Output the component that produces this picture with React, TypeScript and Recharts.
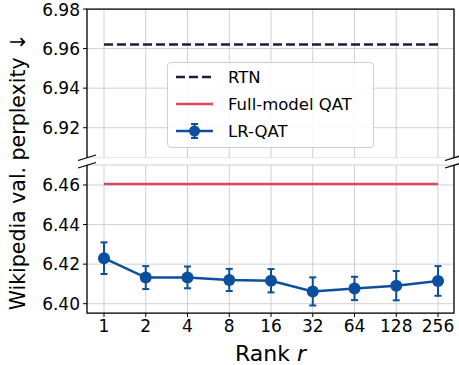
import React from 'react'
import {
  ComposedChart,
  Line,
  XAxis,
  YAxis,
  CartesianGrid,
  ErrorBar,
  Label,
} from 'recharts'

const ranks = ['1', '2', '4', '8', '16', '32', '64', '128', '256']
const lrQat = [6.423, 6.4132, 6.4133, 6.412, 6.4116, 6.4062, 6.4077, 6.4091, 6.4115]
const lrQatErr = [0.008, 0.0058, 0.0055, 0.0056, 0.0059, 0.0071, 0.0059, 0.0074, 0.0075]
const rtnValue = 6.962
const fullQatValue = 6.4605
const topTicks = [6.92, 6.94, 6.96, 6.98]
const bottomTicks = [6.4, 6.42, 6.44, 6.46]

const COLORS = {
  rtn: '#1c1c3f',
  full: '#d9485f',
  lr: '#0b4f9d',
  grid: '#d0d0d0',
}

const FONT = '"DejaVu Sans", sans-serif'
const W = 459
const H = 365
const AXIS_W = 87
const RIGHT = 5
// panel frames (page pixels)
const TOP_Y0 = 9
const TOP_Y1 = 158
const BOT_OFFSET = 150
const BOT_Y0 = 165
const BOT_Y1 = 313
const PLOT_X1 = W - RIGHT

const data = ranks.map((r, i) => ({
  rank: r,
  lr: lrQat[i],
  err: lrQatErr[i],
  rtn: rtnValue,
  full: fullQatValue,
}))

const tickStyle = { fontSize: 17, fill: '#000', fontFamily: FONT }
const fmt = (v: number) => v.toFixed(2)

const LegendBox = () => (
  <div
    style={{
      position: 'absolute',
      left: 167,
      top: 62,
      width: 205,
      height: 84,
      background: 'rgba(255,255,255,0.85)',
      border: '1px solid #d0d0d0',
      borderRadius: 4,
    }}
  >
    <svg width={205} height={84} style={{ position: 'absolute', left: 0, top: 0 }}>
      <line x1={8} x2={45} y1={14} y2={14} stroke={COLORS.rtn} strokeWidth={2.5} strokeDasharray="9 4" />
      <line x1={8} x2={45} y1={41} y2={41} stroke={COLORS.full} strokeWidth={2.5} />
      <line x1={8} x2={45} y1={68} y2={68} stroke={COLORS.lr} strokeWidth={2.5} />
      <line x1={26.5} x2={26.5} y1={61} y2={75} stroke={COLORS.lr} strokeWidth={2} />
      <line x1={23} x2={30} y1={61} y2={61} stroke={COLORS.lr} strokeWidth={2} />
      <line x1={23} x2={30} y1={75} y2={75} stroke={COLORS.lr} strokeWidth={2} />
      <circle cx={26.5} cy={68} r={5.5} fill={COLORS.lr} />
      <text x={60} y={20} fontSize={16.5} fontFamily={FONT} fill="#000">RTN</text>
      <text x={60} y={47} fontSize={16.5} fontFamily={FONT} fill="#000">Full-model QAT</text>
      <text x={60} y={74} fontSize={16.5} fontFamily={FONT} fill="#000">LR-QAT</text>
    </svg>
  </div>
)

const XLabel = (props: any) => {
  const vb = props.viewBox || {}
  return (
    <text
      x={vb.x + vb.width / 2}
      y={361 - BOT_OFFSET}
      textAnchor="middle"
      fontSize={22}
      fontFamily={FONT}
      fill="#000"
    >
      Rank <tspan fontStyle="italic">r</tspan>
    </text>
  )
}

export default function App() {
  return (
    <div style={{ position: 'absolute', left: 0, top: 0, width: W, height: H, background: '#fff' }}>
      {/* upper panel */}
      <div style={{ position: 'absolute', left: 0, top: 0 }}>
        <ComposedChart width={W} height={TOP_Y1} data={data} margin={{ top: TOP_Y0, right: RIGHT, bottom: 0, left: 0 }}>
          <CartesianGrid stroke={COLORS.grid} strokeWidth={1} />
          <XAxis dataKey="rank" scale="point" padding={{ left: 17, right: 16 }} hide />
          <YAxis
            domain={[6.9047, 6.98]}
            ticks={topTicks}
            allowDataOverflow
            width={AXIS_W}
            tick={tickStyle}
            tickFormatter={fmt}
            tickSize={4}
            tickMargin={3}
            tickLine={{ stroke: '#000' }}
            axisLine={false}
          />
          <Line
            dataKey="rtn"
            stroke={COLORS.rtn}
            strokeWidth={2.5}
            strokeDasharray="9 4"
            dot={false}
            isAnimationActive={false}
          />
        </ComposedChart>
      </div>

      {/* lower panel */}
      <div style={{ position: 'absolute', left: 0, top: BOT_OFFSET }}>
        <ComposedChart
          width={W}
          height={H - BOT_OFFSET}
          data={data}
          margin={{ top: BOT_Y0 - BOT_OFFSET, right: RIGHT, bottom: 0, left: 0 }}
        >
          <CartesianGrid stroke={COLORS.grid} strokeWidth={1} />
          <XAxis
            dataKey="rank"
            scale="point"
            padding={{ left: 17, right: 16 }}
            height={H - BOT_Y1}
            tick={tickStyle}
            tickSize={4}
            tickMargin={3}
            tickLine={{ stroke: '#000' }}
            axisLine={false}
            interval={0}
          >
            <Label content={<XLabel />} />
          </XAxis>
          <YAxis
            domain={[6.3953, 6.4701]}
            ticks={bottomTicks}
            allowDataOverflow
            width={AXIS_W}
            tick={tickStyle}
            tickFormatter={fmt}
            tickSize={4}
            tickMargin={3}
            tickLine={{ stroke: '#000' }}
            axisLine={false}
          />
          <Line
            dataKey="full"
            stroke={COLORS.full}
            strokeWidth={2.5}
            dot={false}
            isAnimationActive={false}
          />
          <Line
            dataKey="lr"
            stroke={COLORS.lr}
            strokeWidth={2.5}
            dot={{ r: 6, fill: COLORS.lr, stroke: COLORS.lr, strokeWidth: 0 }}
            isAnimationActive={false}
          >
            <ErrorBar dataKey="err" width={3.5} stroke={COLORS.lr} strokeWidth={2} direction="y" />
          </Line>
        </ComposedChart>
      </div>

      <LegendBox />

      {/* axis label, panel frames and break marks */}
      <svg width={W} height={H} style={{ position: 'absolute', left: 0, top: 0, pointerEvents: 'none' }}>
        <text
          transform="translate(25,172) rotate(-90)"
          textAnchor="middle"
          fontSize={20.5}
          fontFamily={FONT}
          fill="#000"
        >
          Wikipedia val. perplexity ↓
        </text>
        <g stroke="#000" strokeWidth={1.25} fill="none">
          <polyline points={`${AXIS_W},${TOP_Y1} ${AXIS_W},${TOP_Y0} ${PLOT_X1},${TOP_Y0} ${PLOT_X1},${TOP_Y1}`} />
          <polyline points={`${AXIS_W},${BOT_Y0} ${AXIS_W},${BOT_Y1} ${PLOT_X1},${BOT_Y1} ${PLOT_X1},${BOT_Y0}`} />
          <line x1={78} y1={160.5} x2={96} y2={155} />
          <line x1={78} y1={168} x2={96} y2={162.5} />
          <line x1={445} y1={160.5} x2={463} y2={155} />
          <line x1={445} y1={168} x2={463} y2={162.5} />
        </g>
      </svg>
    </div>
  )
}
